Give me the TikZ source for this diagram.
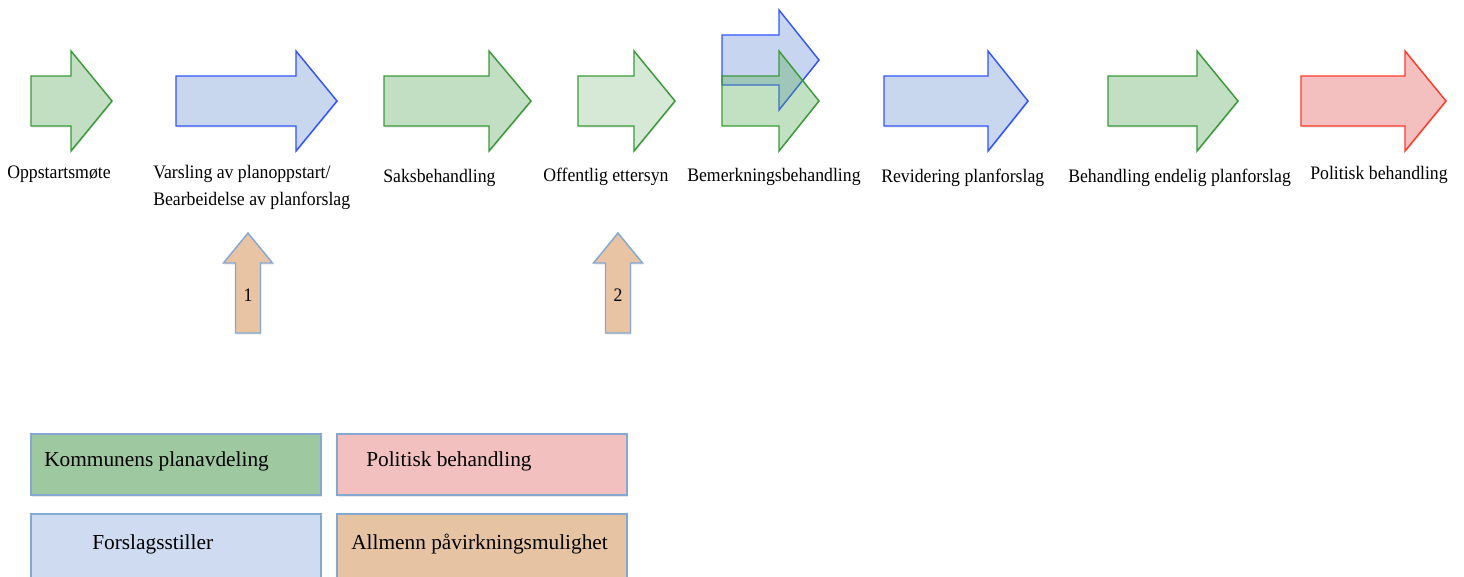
\documentclass[tikz,border=0pt]{standalone}
\usepackage{fontspec}
\setmainfont{Liberation Serif}
\newfontfamily\condserif[FakeStretch=0.93]{Liberation Serif}
\usetikzlibrary{shadows}
\definecolor{gline}{RGB}{58,154,58}
\definecolor{gfill}{RGB}{194,222,195}
\definecolor{glight}{RGB}{214,233,214}
\definecolor{bline}{RGB}{51,85,255}
\definecolor{bfill}{RGB}{201,215,238}
\definecolor{rline}{RGB}{255,59,42}
\definecolor{rfill}{RGB}{243,192,191}
\definecolor{gbase}{RGB}{80,170,80}
\definecolor{bbase}{RGB}{74,116,208}
\definecolor{tanfill}{RGB}{232,196,164}
\definecolor{boxline}{RGB}{133,168,208}
\definecolor{lgreen}{RGB}{158,200,160}
\definecolor{lpink}{RGB}{242,192,191}
\definecolor{lblue}{RGB}{207,219,240}
\definecolor{ltan}{RGB}{230,196,163}
\tikzset{
  shad/.style={drop shadow={opacity=0.18,shadow xshift=0.6pt,shadow yshift=-1.2pt}},
  garrow/.style={draw=gline,fill=gfill,line width=1.1pt,line join=miter,shad},
  glarrow/.style={draw=gline,fill=glight,line width=1.1pt,shad},
  barrow/.style={draw=bline,fill=bfill,line width=1.1pt,shad},
  rarrowst/.style={draw=rline,fill=rfill,line width=1.1pt,shad},
  gtrans/.style={draw=gline,fill=gbase,fill opacity=0.35,line width=1.1pt},
  btrans/.style={draw=bline,fill=bbase,fill opacity=0.3,line width=1.1pt},
  uparrowst/.style={draw=boxline,fill=tanfill,line width=1.1pt,shad},
  lbl/.style={anchor=base west,inner sep=0pt,font=\condserif\fontsize{14.3pt}{20pt}\selectfont},
  legbox/.style={draw=boxline,line width=1.1pt,shad},
  legtxt/.style={anchor=base west,inner sep=0pt,font=\fontsize{16pt}{20pt}\selectfont},
  numtxt/.style={inner sep=0pt,font=\condserif\fontsize{14.3pt}{16pt}\selectfont}
}
% right arrow: style, shaft left x, head base x, tip x, centre y
\newcommand\rightarr[5]{%
  \path[#1] (#2,#5-25) -- (#3,#5-25) -- (#3,#5-50) -- (#4,#5) -- (#3,#5+50)
    -- (#3,#5+25) -- (#2,#5+25) -- cycle;}
% up arrow: centre x
\newcommand\uparr[1]{%
  \path[uparrowst] (#1-12.5,333) -- (#1-12.5,263) -- (#1-24.5,263) -- (#1,233)
    -- (#1+24.5,263) -- (#1+12.5,263) -- (#1+12.5,333) -- cycle;}
\begin{document}
\begin{tikzpicture}[x=0.75pt,y=-0.75pt]
\useasboundingbox (0,0) rectangle (1464,576);
% process arrows
\rightarr{garrow}{31}{71}{112}{101}
\rightarr{barrow}{176}{296}{337}{101}
\rightarr{garrow}{384}{489}{531}{101}
\rightarr{glarrow}{578}{634}{675}{101}
\rightarr{btrans}{722}{779}{819}{60}
\rightarr{gtrans}{722}{779}{819}{101}
\rightarr{barrow}{884}{988}{1028}{101}
\rightarr{garrow}{1108}{1197}{1238}{101}
\rightarr{rarrowst}{1301}{1405}{1446}{101}
% labels
\node[lbl] (l1) at (7,178) {Oppstartsmøte};
\node[lbl] (l2a) at (153,178) {Varsling av planoppstart/};
\node[lbl] (l2b) at (153,205) {Bearbeidelse av planforslag};
\node[lbl] (l3) at (383,182) {Saksbehandling};
\node[lbl] (l4) at (543,181) {Offentlig ettersyn};
\node[lbl] (l5) at (687,181) {Bemerkningsbehandling};
\node[lbl] (l6) at (881,182) {Revidering planforslag};
\node[lbl] (l7) at (1068,182) {Behandling endelig planforslag};
\node[lbl] (l8) at (1310,179) {Politisk behandling};
% influence arrows
\uparr{248}
\uparr{618}
\node[numtxt] (n1) at (248,295) {1};
\node[numtxt] (n2) at (618,295) {2};
% legend
\path[legbox,fill=lgreen] (31,434) rectangle (321,495);
\path[legbox,fill=lpink] (337,434) rectangle (627,495);
\path[legbox,fill=lblue] (31,514) rectangle (321,580);
\path[legbox,fill=ltan] (337,514) rectangle (627,580);
\node[legtxt] (k1) at (44,466) {Kommunens planavdeling};
\node[legtxt] (k2) at (366,466) {Politisk behandling};
\node[legtxt] (k3) at (92,549) {Forslagsstiller};
\node[legtxt] (k4) at (351,549) {Allmenn påvirkningsmulighet};
\end{tikzpicture}
\end{document}
